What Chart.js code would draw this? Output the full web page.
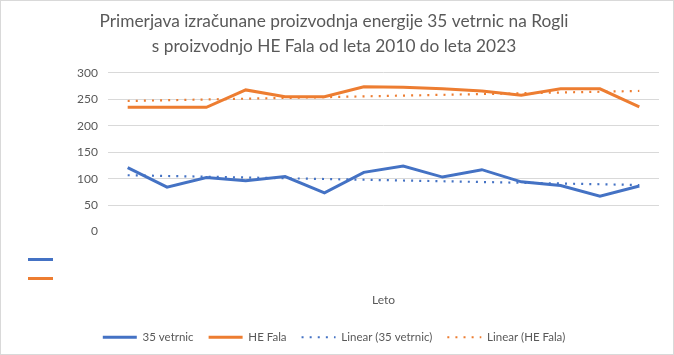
<!DOCTYPE html>
<html>
<head>
<meta charset="utf-8">
<script src="https://cdn.jsdelivr.net/npm/chart.js@4.4.1/dist/chart.umd.min.js"></script>
<style>
  html, body { margin: 0; padding: 0; background: #ffffff; }
  #wrap { position: absolute; left: 0; top: 0; width: 672px; height: 353px; border: 1px solid #d9d9d9; background: #fff; }
  canvas { display: block; }
</style>
</head>
<body>
<div id="wrap"><canvas id="c" width="672" height="353"></canvas></div>
<script>
// ---- data ----
const years = ['2010','2011','2012','2013','2014','2015','2016','2017','2018','2019','2020','2021','2022','2023'];
const vetrnic35 = [121, 84, 102, 96, 104, 73, 112, 124, 103, 117, 94, 87, 67, 86];
const heFala = [235, 235, 235, 268, 255, 255, 274, 273, 270, 266, 258, 270, 270, 236];
const trendVetrnicEnds = [106.5, 88];   // linear trend, first and last year
const trendFalaEnds = [247, 266];
const yTicks = [0, 50, 100, 150, 200, 250, 300];
const titleLines = ['Primerjava izračunane proizvodnja energije 35 vetrnic na Rogli', 's proizvodnjo HE Fala od leta 2010 do leta 2023'];

const BLUE = '#4472C4', ORANGE = '#ED7D31', TXT = '#595959', GRID = '#d9d9d9';
const FONT = 'Lato, "Open Sans", sans-serif';

const endsToPoints = (ends) => [{x: years[0], y: ends[0]}, {x: years[years.length - 1], y: ends[1]}];

// short series keys drawn in the area below the plot (as in the original)
const seriesKeys = {
  id: 'seriesKeys',
  afterDraw(chart) {
    const ctx = chart.ctx, b = chart.chartArea.bottom;
    ctx.save();
    ctx.lineWidth = 3;
    [[BLUE, 28], [ORANGE, 47]].forEach(([col, dy]) => {
      ctx.strokeStyle = col;
      ctx.beginPath(); ctx.moveTo(27, b + dy); ctx.lineTo(52, b + dy); ctx.stroke();
    });
    ctx.restore();
  }
};

new Chart(document.getElementById('c'), {
  type: 'line',
  data: {
    labels: years,
    datasets: [
      { label: '35 vetrnic', data: vetrnic35, borderColor: BLUE, backgroundColor: BLUE, borderWidth: 3, pointRadius: 0, tension: 0 },
      { label: 'HE Fala', data: heFala, borderColor: ORANGE, backgroundColor: ORANGE, borderWidth: 3, pointRadius: 0, tension: 0 },
      { label: 'Linear (35 vetrnic)', data: endsToPoints(trendVetrnicEnds), borderColor: BLUE, backgroundColor: BLUE, borderWidth: 2.2, borderDash: [2, 6.1], pointRadius: 0, spanGaps: true },
      { label: 'Linear (HE Fala)', data: endsToPoints(trendFalaEnds), borderColor: ORANGE, backgroundColor: ORANGE, borderWidth: 2.2, borderDash: [2, 6.1], pointRadius: 0, spanGaps: true }
    ]
  },
  options: {
    responsive: false,
    animation: false,
    layout: { padding: { left: 8, right: 14, top: 6, bottom: 1 } },
    plugins: {
      title: {
        display: true,
        text: titleLines,
        color: TXT,
        font: { family: FONT, size: 17.3, weight: 'normal', lineHeight: 1.445 },
        padding: { top: 2, bottom: 14 }
      },
      legend: {
        position: 'bottom',
        labels: {
          color: TXT,
          font: { family: FONT, size: 11.5 },
          usePointStyle: true,
          pointStyle: 'line',
          pointStyleWidth: 34,
          boxHeight: 11,
          padding: 15,
          generateLabels(chart) {
            const items = Chart.defaults.plugins.legend.labels.generateLabels(chart);
            return items.map(it => {
              const ds = chart.data.datasets[it.datasetIndex];
              it.lineWidth = ds.borderWidth;
              it.lineDash = ds.borderDash || [];
              it.strokeStyle = ds.borderColor;
              it.fillStyle = ds.borderColor;
              it.pointStyle = 'line';
              return it;
            });
          }
        }
      },
      tooltip: { enabled: false }
    },
    scales: {
      x: {
        offset: true,
        grid: { display: false },
        border: { display: false },
        ticks: { display: false },
        title: { display: true, text: 'Leto', color: TXT, font: { family: FONT, size: 12 }, padding: { top: 0, bottom: 9 } },
        afterFit(s) { s.height = 85; }
      },
      y: {
        min: 0, max: 300,
        afterBuildTicks(s) { s.ticks = yTicks.map(v => ({ value: v })); },
        grid: { color: (c) => c.tick && c.tick.value === 0 ? 'rgba(0,0,0,0)' : GRID, drawTicks: false, lineWidth: 1 },
        border: { display: false },
        ticks: { color: TXT, font: { family: FONT, size: 12 }, padding: 10 },
        afterFit(s) { s.width = 99; }
      }
    }
  },
  plugins: [seriesKeys]
});
</script>
</body>
</html>
